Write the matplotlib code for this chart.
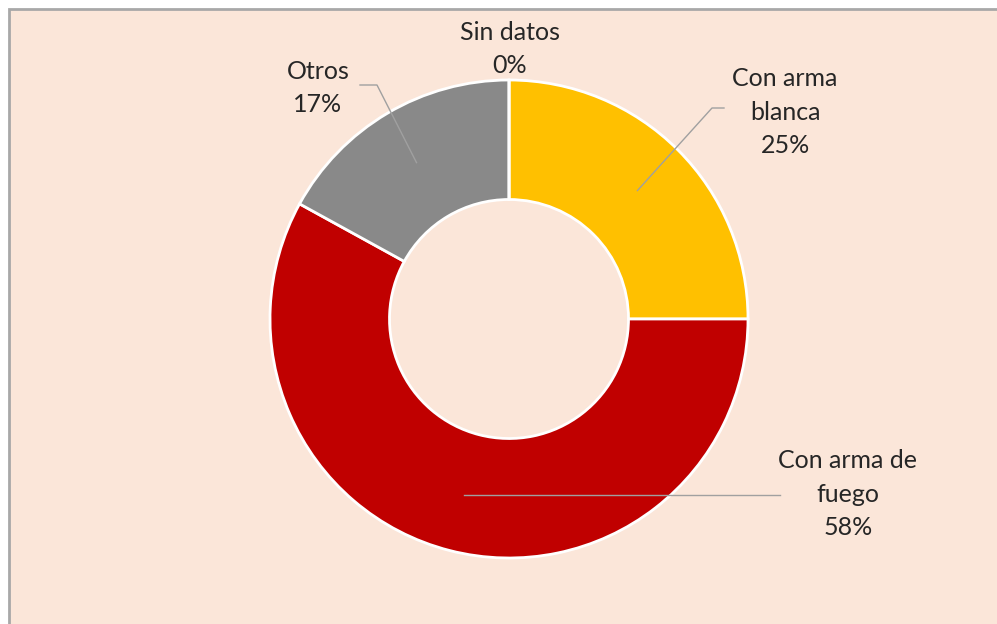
import numpy as np
import matplotlib
matplotlib.use("Agg")
import matplotlib.pyplot as plt
from matplotlib.patches import Rectangle

categories = ["Con arma blanca", "Con arma de fuego", "Otros", "Sin datos"]
values = [25, 58, 17, 0]
label_texts = ["Con arma\nblanca\n25%", "Con arma de\nfuego\n58%", "Otros\n17%", "Sin datos\n0%"]
colors = ["#FFC000", "#C00000", "#898989", "#5B9BD5"]

W, H = 997, 624
fig = plt.figure(figsize=(W / 100, H / 100), dpi=100)
fig.patch.set_facecolor("white")
ax = fig.add_axes([0, 0, 1, 1])
ax.set_xlim(0, W)
ax.set_ylim(0, H)
ax.set_aspect("equal")
ax.axis("off")

# background panel with frame
ax.add_patch(Rectangle((9, -5), W + 10, H - 9 + 5, facecolor="#FBE6D9",
                       edgecolor="#A8A8A8", linewidth=2, zorder=0))

cx, cy, R = 509, H - 319, 239
wedges, _ = ax.pie(values, colors=colors, startangle=90, counterclock=False,
                   radius=R, center=(cx, cy), frame=True,
                   wedgeprops=dict(width=R * 0.5, edgecolor="white", linewidth=2))
ax.set_xlim(0, W)
ax.set_ylim(0, H)
ax.axis("off")

font = ["Lato", "DejaVu Sans"]
tc = "#262626"
fs = 18
lc = "#A0A0A0"

# label positions (pixel coords, y from top) and leader elbows (None y -> horizontal)
label_pos = [(785, 112), (848, 494), (318, 88), (510, 49)]
elbows = [[(712, 108), (724, 108)], [(780, None)], [(377, 85), (360, 85)], None]

for i, w in enumerate(wedges):
    lx, ly = label_pos[i]
    ax.text(lx, H - ly, label_texts[i], ha="center", va="center", fontsize=fs,
            color=tc, family=font, linespacing=1.55)
    if elbows[i] is None:
        continue
    mid = np.deg2rad((w.theta1 + w.theta2) / 2)
    ax_ = cx + 0.76 * R * np.cos(mid)
    ay_ = cy + 0.76 * R * np.sin(mid)
    xs = [ax_] + [p[0] for p in elbows[i]]
    ys = [ay_] + [ay_ if p[1] is None else H - p[1] for p in elbows[i]]
    ax.plot(xs, ys, color=lc, linewidth=1, zorder=5)

fig.savefig("out.png", dpi=100, facecolor=fig.get_facecolor())
